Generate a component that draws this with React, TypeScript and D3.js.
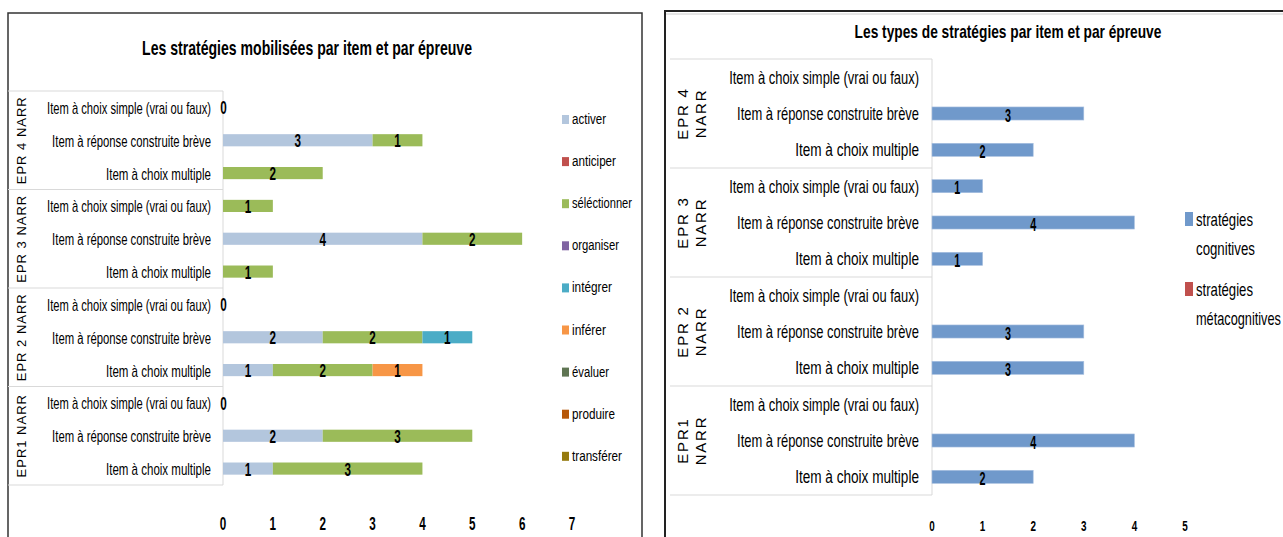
import React from "react";
import * as d3 from "d3";

const FONT = "'Liberation Sans', Arial, sans-serif";

const groups = ["EPR 4 NARR", "EPR 3 NARR", "EPR 2 NARR", "EPR1 NARR"];
const groupLines = [["EPR 4", "NARR"], ["EPR 3", "NARR"], ["EPR 2", "NARR"], ["EPR1", "NARR"]];
const items = ["Item à choix simple (vrai ou faux)", "Item à réponse construite brève", "Item à choix multiple"];

const strategies = ["activer", "anticiper", "séléctionner", "organiser", "intégrer", "inférer", "évaluer", "produire", "transférer"];
const strategyColors = ["#B3C6DD", "#C0504D", "#9BBB59", "#8064A2", "#4BACC6", "#F79646", "#5F7553", "#B65708", "#957A0E"];

// rows ordered top to bottom: EPR4 (simple, réponse, multiple), EPR3, EPR2, EPR1
const activer = [0, 3, 0, 0, 4, 0, 0, 2, 1, 0, 2, 1];
const anticiper = [0, 0, 0, 0, 0, 0, 0, 0, 0, 0, 0, 0];
const selectionner = [0, 1, 2, 1, 2, 1, 0, 2, 2, 0, 3, 3];
const organiser = [0, 0, 0, 0, 0, 0, 0, 0, 0, 0, 0, 0];
const integrer = [0, 0, 0, 0, 0, 0, 0, 1, 0, 0, 0, 0];
const inferer = [0, 0, 0, 0, 0, 0, 0, 0, 1, 0, 0, 0];
const evaluer = [0, 0, 0, 0, 0, 0, 0, 0, 0, 0, 0, 0];
const produire = [0, 0, 0, 0, 0, 0, 0, 0, 0, 0, 0, 0];
const transferer = [0, 0, 0, 0, 0, 0, 0, 0, 0, 0, 0, 0];
const strategySeries = [activer, anticiper, selectionner, organiser, integrer, inferer, evaluer, produire, transferer];

const typeNames = [["stratégies", "cognitives"], ["stratégies", "métacognitives"]];
const typeColors = ["#7099CB", "#C0504D"];
const cognitives = [null, 3, 2, 1, 4, 1, null, 3, 3, null, 4, 2];
const metacognitives = [null, null, null, null, null, null, null, null, null, null, null, null];

const leftTicks = [0, 1, 2, 3, 4, 5, 6, 7];
const rightTicks = [0, 1, 2, 3, 4, 5];

// text widths (layout) matching the condensed look of the original
const leftItemLen = [164, 159, 105];
const rightItemLen = [190, 182, 124];
const leftLegendLen = [34, 44, 60, 47, 40, 34, 37, 43, 50];
const rightLegendLen = [[57, 59], [57, 85]];

const rowKeys = groups.flatMap((g, gi) => items.map((_, ii) => `${gi}-${ii}`));

let measureCtx: CanvasRenderingContext2D | null = null;
function measure(text: string, size: number, bold: boolean) {
  if (!measureCtx) measureCtx = document.createElement("canvas").getContext("2d");
  if (!measureCtx) return text.length * size * 0.55;
  measureCtx.font = `${bold ? "bold " : ""}${size}px 'Liberation Sans', Arial, sans-serif`;
  return measureCtx.measureText(text).width;
}

// text squeezed horizontally to a given width (condensed look)
function T(props: any) {
  const { x, y, len, size, bold, anchor, children } = props;
  const str = String(children);
  const natural = measure(str, size, !!bold);
  const sx = len && natural ? len / natural : 1;
  return (
    <g transform={`translate(${x},${y}) scale(${sx},1)`}>
      <text x={0} y={0} fontFamily={FONT} fontSize={size} fontWeight={bold ? "bold" : "normal"}
        textAnchor={anchor || "start"} fill="#000">
        {str}
      </text>
    </g>
  );
}

function LeftChart() {
  const x = d3.scaleLinear().domain([0, 7]).range([223, 572]);
  const y = d3.scaleBand<string>().domain(rowKeys).range([91, 485]).paddingInner(0.63).paddingOuter(0.315);
  const step = y.step();
  const cy = (k: string) => (y(k) as number) + y.bandwidth() / 2;
  const rows = rowKeys.map((k, i) => {
    const o: any = { key: k };
    strategies.forEach((s, si) => (o[s] = strategySeries[si][i]));
    return o;
  });
  const stacked = d3.stack<any>().keys(strategies)(rows);
  const tableLeft = 8, tableRight = 223;
  const groupH = step * 3;
  return (
    <g>
      <path d="M8,537 V13 H642 V537" fill="none" stroke="#333" strokeWidth={1.5} />
      <T x={307} y={55} anchor="middle" bold size={19.5} len={330}>Les stratégies mobilisées par item et par épreuve</T>
      {d3.range(5).map((i) => (
        <line key={"h" + i} x1={tableLeft} x2={tableRight} y1={91 + i * groupH} y2={91 + i * groupH} stroke="#D9D9D9" />
      ))}
      <line x1={tableRight} x2={tableRight} y1={91} y2={485} stroke="#D9D9D9" />
      {groups.map((g, gi) => (
        <text key={g} transform={`translate(26,${91 + gi * groupH + groupH / 2}) rotate(-90)`} textAnchor="middle"
          fontFamily={FONT} fontSize={13} letterSpacing={1} fill="#000">{g}</text>
      ))}
      {rowKeys.map((k, i) => (
        <T key={k} x={211} y={cy(k) + 6.5} anchor="end" size={16} len={leftItemLen[i % 3]}>{items[i % 3]}</T>
      ))}
      {stacked.map((layer, si) =>
        layer.map((d, i) => {
          const v = d[1] - d[0];
          if (!v) return null;
          return (
            <rect key={si + "-" + i} x={x(d[0])} y={y(rowKeys[i])} width={x(d[1]) - x(d[0])} height={y.bandwidth()}
              fill={strategyColors[si]} />
          );
        })
      )}
      {stacked.map((layer, si) =>
        layer.map((d, i) => {
          const v = d[1] - d[0];
          if (!v) return null;
          return (
            <T key={"l" + si + "-" + i} x={(x(d[0]) + x(d[1])) / 2} y={cy(rowKeys[i]) + 7} anchor="middle" bold size={18} len={6.5}>{v}</T>
          );
        })
      )}
      {rows.map((r, i) => {
        const total = d3.sum(strategies, (s) => r[s]);
        if (total) return null;
        return (
          <T key={"z" + i} x={x(0) + 0.5} y={cy(rowKeys[i]) + 7} anchor="middle" bold size={18} len={6.5}>0</T>
        );
      })}
      {leftTicks.map((t) => (
        <T key={t} x={x(t)} y={530} anchor="middle" bold size={18} len={6.5}>{t}</T>
      ))}
      {strategies.map((s, si) => (
        <g key={s} transform={`translate(562,${119 + si * 42.1})`}>
          <rect x={0} y={-4} width={7} height={9} fill={strategyColors[si]} />
          <T x={10} y={5} size={15.5} len={leftLegendLen[si]}>{s}</T>
        </g>
      ))}
    </g>
  );
}

function RightChart() {
  const x = d3.scaleLinear().domain([0, 5]).range([932, 1185]);
  const y = d3.scaleBand<string>().domain(rowKeys).range([59, 495]).paddingInner(0.64).paddingOuter(0.32);
  const step = y.step();
  const cy = (k: string) => (y(k) as number) + y.bandwidth() / 2;
  const groupH = step * 3;
  const series = [cognitives, metacognitives];
  return (
    <g>
      <line x1={665} x2={1283} y1={14} y2={14} stroke="#CCCCCC" strokeWidth={1} />
      <path d="M665,537 V11 H1283" fill="none" stroke="#222" strokeWidth={2} />
      <T x={1008} y={38} anchor="middle" bold size={18.5} len={307}>Les types de stratégies par item et par épreuve</T>
      {d3.range(5).map((i) => (
        <line key={"h" + i} x1={670} x2={932} y1={59 + i * groupH} y2={59 + i * groupH} stroke="#D9D9D9" />
      ))}
      <line x1={932} x2={932} y1={59} y2={495} stroke="#D9D9D9" />
      {groupLines.map((ls, gi) => (
        <g key={gi} transform={`translate(0,${59 + gi * groupH + groupH / 2})`}>
          {ls.map((l, li) => (
            <text key={li} transform={`translate(${688 + li * 18},0) rotate(-90)`} textAnchor="middle"
              fontFamily={FONT} fontSize={15} letterSpacing={1.8} fill="#000">{l}</text>
          ))}
        </g>
      ))}
      {rowKeys.map((k, i) => (
        <T key={k} x={919} y={cy(k) + 6.5} anchor="end" size={18.5} len={rightItemLen[i % 3]}>{items[i % 3]}</T>
      ))}
      {series.map((s, si) =>
        s.map((v, i) =>
          v ? (
            <g key={si + "-" + i}>
              <rect x={x(0)} y={y(rowKeys[i])} width={x(v) - x(0)} height={y.bandwidth()} fill={typeColors[si]}
                stroke="#A9C0E0" strokeWidth={0.6} />
              <T x={(x(0) + x(v)) / 2} y={cy(rowKeys[i]) + 8} anchor="middle" bold size={19} len={6}>{v}</T>
            </g>
          ) : null
        )
      )}
      {rightTicks.map((t) => (
        <T key={t} x={x(t)} y={531} anchor="middle" bold size={15.5} len={5.5}>{t}</T>
      ))}
      {typeNames.map((n, i) => (
        <g key={i} transform={`translate(1185,${219 + i * 70})`}>
          <rect x={0} y={-7} width={8} height={14} fill={typeColors[i]} />
          <T x={11} y={7} size={18} len={rightLegendLen[i][0]}>{n[0]}</T>
          <T x={11} y={36} size={18} len={rightLegendLen[i][1]}>{n[1]}</T>
        </g>
      ))}
    </g>
  );
}

export default function App() {
  return (
    <svg width={1283} height={537} style={{ position: "absolute", left: 0, top: 0, display: "block", background: "#fff" }}>
      <rect x={0} y={0} width={1283} height={537} fill="#fff" />
      <LeftChart />
      <RightChart />
    </svg>
  );
}
